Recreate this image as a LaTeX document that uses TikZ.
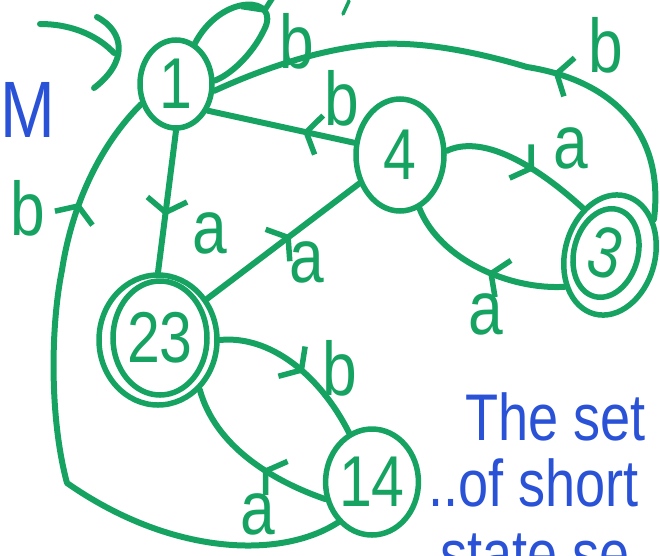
\documentclass[tikz,border=0pt]{standalone}
\usepackage{fontspec}
\setmainfont{Liberation Sans}
\newfontfamily\handfont[FakeStretch=0.82]{Liberation Sans}
\usetikzlibrary{arrows.meta,decorations.markings,shapes.geometric}
\definecolor{marker}{RGB}{22,163,98}
\definecolor{ink}{RGB}{42,82,215}
\tikzset{
  state/.style={draw, color=marker, ellipse, line width=5.5pt, inner sep=0pt,
    font=\handfont\fontsize{72}{72}\selectfont},
  edge/.style={draw, color=marker, line width=6pt, line cap=round, line join=round},
  midtip/.style={postaction={decorate,decoration={markings,
    mark=at position #1 with {\arrow[line width=5.5pt]{Straight Barb[length=13pt,width=40pt]}}}}},
  lbl/.style={text=marker, inner sep=0pt, font=\handfont\fontsize{76}{76}\selectfont},
  note/.style={text=ink, inner sep=0pt, font=\handfont\fontsize{66}{66}\selectfont},
}
\begin{document}
\begin{tikzpicture}[x=1pt,y=-1pt]
\useasboundingbox (0,0) rectangle (660,555);

% states
\node[state, minimum width=72pt, minimum height=88pt] (n1) at (176,84) {1};
\node[state, minimum width=88pt, minimum height=112pt] (n4) at (400,155) {4};
\node[state, minimum width=90pt, minimum height=122pt, rotate=-15] (n3) at (610,255) {};
\node[state, minimum width=64pt, minimum height=90pt, rotate=-15] (n3i) at (606,253) {3};
\node[state, minimum width=118pt, minimum height=130pt] (n23) at (158,340) {};
\node[state, minimum width=94pt, minimum height=114pt] (n23i) at (160,338) {23};
\node[state, minimum width=86pt, minimum height=106pt] (n14) at (372,482) {14};

% initial arrow
\coordinate (s0) at (40,24);
\coordinate (s1) at (114,53);
\draw[edge] (s0) .. controls (75,24) and (100,38) .. (s1);
\draw[edge] (97,17) .. controls (125,32) and (128,62) .. (94,88);

% transitions
\draw[edge, midtip=0.6] (n1.-90) -- (n23.90);
\draw[edge, midtip=0.55] (n23.40) -- (n4.215);
\draw[edge, midtip=0.35] (n4.165) -- (n1.-40);
\draw[edge, midtip=0.6] (n4.5) .. controls (480,135) and (530,160) .. (n3.135);
\draw[edge, midtip=0.45] (n3.230) .. controls (510,290) and (440,260) .. (n4.-70);
\draw[edge, midtip=0.36] (n3.54) .. controls (665,130) and (610,80) .. (527,67)
  .. controls (470,50) and (420,42) .. (380,44)
  .. controls (320,48) and (260,70) .. (n1.-10);
\draw[edge, midtip=0.5] (n1.65) .. controls (222,-8) and (282,-4) .. (264,30)
  .. controls (252,55) and (230,75) .. (n1.5);
\draw[edge, midtip=0.55] (n23.0) .. controls (270,335) and (320,375) .. (n14.115);
\draw[edge, midtip=0.4] (n14.200) .. controls (270,480) and (215,445) .. (n23.-50);
\draw[edge, midtip=0.83] (n14.230) .. controls (280,560) and (170,555) .. (67,483)
  .. controls (50,420) and (50,330) .. (62,270)
  .. controls (72,205) and (100,145) .. (n1.210);
\draw[edge, line width=3.5pt] (349,1) -- (343,14);

% transition labels
\node[lbl] (l1) at (210,233) {a};
\node[lbl] (l2) at (307,262) {a};
\node[lbl] (l3) at (342,98) {b};
\node[lbl] (l4) at (571,148) {a};
\node[lbl] (l5) at (486,314) {a};
\node[lbl] (l6) at (606,45) {b};
\node[lbl] (l7) at (297,41) {b};
\node[lbl] (l8) at (340,368) {b};
\node[lbl] (l9) at (258,514) {a};
\node[lbl] (l10) at (28,208) {b};

% blue notes
\node[text=ink, inner sep=0pt, font=\handfont\fontsize{80}{80}\selectfont] (m) at (28,110) {M};
\node[note, anchor=base west] (t1) at (465,440) {The set};
\node[note, anchor=base west] (t2) at (428,506) {..of short};
\begin{scope}
\clip (0,0) rectangle (660,555);
\node[note, anchor=base west] (t3) at (440,576) {state se};
\end{scope}
\end{tikzpicture}
\end{document}
